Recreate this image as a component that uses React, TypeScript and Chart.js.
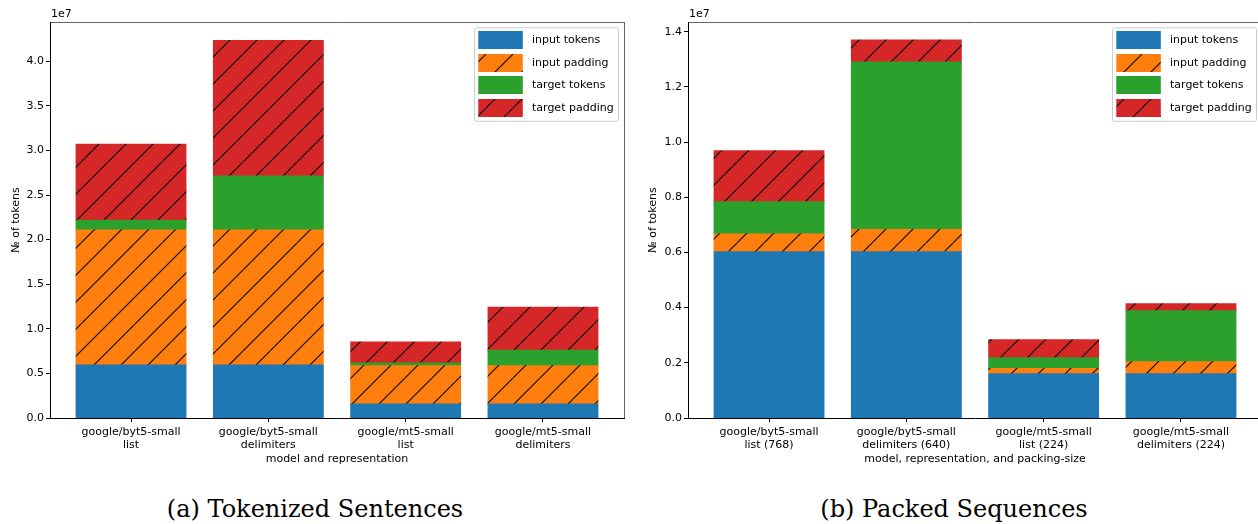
import React, { useEffect, useRef } from 'react';
import { Chart, registerables } from 'chart.js';

Chart.register(...registerables);

// ---------- data ----------
const SERIES_NAMES = ['input tokens', 'input padding', 'target tokens', 'target padding'];
const SERIES_COLORS = ['#1f77b4', '#ff7f0e', '#2ca02c', '#d62728'];
const SERIES_HATCHED = [false, true, false, true];

const LEFT_CATEGORIES = [
  ['google/byt5-small', 'list'],
  ['google/byt5-small', 'delimiters'],
  ['google/mt5-small', 'list'],
  ['google/mt5-small', 'delimiters'],
];
const LEFT_INPUT_TOKENS = [5930000, 5930000, 1570000, 1570000];
const LEFT_INPUT_PADDING = [15160000, 15160000, 4290000, 4290000];
const LEFT_TARGET_TOKENS = [1080000, 6040000, 300000, 1750000];
const LEFT_TARGET_PADDING = [8510000, 15200000, 2350000, 4820000];
const LEFT_Y_TICKS = [0, 5e6, 1e7, 1.5e7, 2e7, 2.5e7, 3e7, 3.5e7, 4e7];
const LEFT_Y_MAX = 4.44e7;

const RIGHT_CATEGORIES = [
  ['google/byt5-small', 'list (768)'],
  ['google/byt5-small', 'delimiters (640)'],
  ['google/mt5-small', 'list (224)'],
  ['google/mt5-small', 'delimiters (224)'],
];
const RIGHT_INPUT_TOKENS = [6020000, 6020000, 1600000, 1600000];
const RIGHT_INPUT_PADDING = [650000, 810000, 190000, 440000];
const RIGHT_TARGET_TOKENS = [1170000, 6070000, 390000, 1850000];
const RIGHT_TARGET_PADDING = [1840000, 800000, 660000, 250000];
const RIGHT_Y_TICKS = [0, 2e6, 4e6, 6e6, 8e6, 1e7, 1.2e7, 1.4e7];
const RIGHT_Y_MAX = 1.435e7;

const LEFT_X_TITLE = 'model and representation';
const RIGHT_X_TITLE = 'model, representation, and packing-size';
const Y_TITLE = '№ of tokens';
const LEFT_CAPTION = '(a) Tokenized Sentences';
const RIGHT_CAPTION = '(b) Packed Sequences';

// ---------- helpers ----------
const FONT_FAMILY = '"DejaVu Sans", sans-serif';

function makeHatch(color: string) {
  const s = 27;
  const c = document.createElement('canvas');
  c.width = s;
  c.height = s;
  const g = c.getContext('2d')!;
  g.fillStyle = color;
  g.fillRect(0, 0, s, s);
  g.strokeStyle = '#000';
  g.lineWidth = 1.1;
  for (const o of [-s, 0, s]) {
    g.beginPath();
    g.moveTo(o, s);
    g.lineTo(o + s, 0);
    g.stroke();
  }
  return g.createPattern(c, 'repeat')!;
}

function decorPlugin() {
  return {
    id: 'decor',
    afterDraw(chart: any) {
      const { ctx, chartArea } = chart;
      const { left, right, top, bottom } = chartArea;
      ctx.save();
      // spines
      ctx.lineWidth = 1;
      ctx.strokeStyle = '#666';
      ctx.beginPath();
      ctx.moveTo(left, top + 0.5);
      ctx.lineTo(right + 1, top + 0.5);
      ctx.moveTo(right + 0.5, top);
      ctx.lineTo(right + 0.5, bottom + 1);
      ctx.stroke();
      ctx.strokeStyle = '#000';
      ctx.beginPath();
      ctx.moveTo(left + 0.5, top);
      ctx.lineTo(left + 0.5, bottom + 1);
      ctx.moveTo(left, bottom + 0.5);
      ctx.lineTo(right + 1, bottom + 0.5);
      ctx.stroke();
      // offset text
      ctx.fillStyle = '#000';
      ctx.font = `11px ${FONT_FAMILY}`;
      ctx.textAlign = 'left';
      ctx.textBaseline = 'middle';
      ctx.fillText('1e7', left + 1, top - 8);
      // legend
      const bw = 144;
      const bh = 93.5;
      const bx = right - 150;
      const by = top + 5.3;
      ctx.beginPath();
      ctx.roundRect(bx + 0.5, by + 0.5, bw, bh, 2);
      ctx.fillStyle = 'rgba(255,255,255,0.8)';
      ctx.fill();
      ctx.strokeStyle = '#cccccc';
      ctx.stroke();
      SERIES_NAMES.forEach((name, i) => {
        const py = by + 3.7 + i * 22.67;
        const px = bx + 4.3;
        ctx.fillStyle = SERIES_HATCHED[i] ? makeHatch(SERIES_COLORS[i]) : SERIES_COLORS[i];
        ctx.fillRect(px, Math.round(py), 44.5, 18);
        ctx.fillStyle = '#000';
        ctx.font = `11px ${FONT_FAMILY}`;
        ctx.textAlign = 'left';
        ctx.textBaseline = 'middle';
        ctx.fillText(name, bx + 58, Math.round(py) + 9.5);
      });
      ctx.restore();
    },
  };
}

function buildChart(
  canvas: HTMLCanvasElement,
  categories: string[][],
  series: number[][],
  yTicks: number[],
  yMax: number,
  yWidth: number,
  yTitlePad: number,
  xTitle: string,
) {
  const datasets = series.map((vals, si) => ({
    label: SERIES_NAMES[si],
    data: vals.map((v, i) => ({ x: i, y: v })),
    backgroundColor: SERIES_HATCHED[si] ? makeHatch(SERIES_COLORS[si]) : SERIES_COLORS[si],
    borderWidth: 0,
    inflateAmount: 0.5,
    categoryPercentage: 0.8,
    barPercentage: 1.0,
  }));
  const tickFont = { family: FONT_FAMILY, size: 11 };
  return new Chart(canvas, {
    type: 'bar',
    data: { datasets } as any,
    plugins: [decorPlugin()],
    options: {
      animation: false,
      responsive: false,
      maintainAspectRatio: false,
      layout: { padding: { left: 0, top: 22, right: 5, bottom: 0 } },
      plugins: { legend: { display: false }, tooltip: { enabled: false } },
      scales: {
        x: {
          type: 'linear',
          min: -0.59,
          max: 3.59,
          offset: false,
          stacked: true,
          afterBuildTicks: (s: any) => {
            s.ticks = categories.map((_, i) => ({ value: i }));
          },
          afterFit: (s: any) => {
            s.height = 52;
          },
          ticks: {
            autoSkip: false,
            maxRotation: 0,
            padding: 3.3,
            color: '#000',
            font: tickFont,
            callback: (v: any) => categories[v] ?? '',
          },
          grid: {
            offset: false,
            drawOnChartArea: false,
            drawTicks: true,
            tickLength: 4,
            color: '#000',
          },
          border: { display: false },
          title: {
            display: true,
            text: xTitle,
            color: '#000',
            font: tickFont,
            padding: { top: 0, bottom: 4.2 },
          },
        },
        y: {
          type: 'linear',
          min: 0,
          max: yMax,
          stacked: true,
          afterBuildTicks: (s: any) => {
            s.ticks = yTicks.map((v) => ({ value: v }));
          },
          afterFit: (s: any) => {
            s.width = yWidth;
          },
          ticks: {
            padding: 2,
            color: '#000',
            font: tickFont,
            callback: (v: any) => (Number(v) / 1e7).toFixed(1),
          },
          grid: { drawOnChartArea: false, drawTicks: true, tickLength: 4, color: '#000' },
          border: { display: false },
          title: {
            display: true,
            text: Y_TITLE,
            color: '#000',
            font: tickFont,
            padding: { top: yTitlePad, bottom: 0 },
          },
        },
      },
    } as any,
  });
}

export default function App() {
  const leftRef = useRef<HTMLCanvasElement>(null);
  const rightRef = useRef<HTMLCanvasElement>(null);

  useEffect(() => {
    const a = buildChart(
      leftRef.current!,
      LEFT_CATEGORIES,
      [LEFT_INPUT_TOKENS, LEFT_INPUT_PADDING, LEFT_TARGET_TOKENS, LEFT_TARGET_PADDING],
      LEFT_Y_TICKS,
      LEFT_Y_MAX,
      50,
      9.4,
      LEFT_X_TITLE,
    );
    const b = buildChart(
      rightRef.current!,
      RIGHT_CATEGORIES,
      [RIGHT_INPUT_TOKENS, RIGHT_INPUT_PADDING, RIGHT_TARGET_TOKENS, RIGHT_TARGET_PADDING],
      RIGHT_Y_TICKS,
      RIGHT_Y_MAX,
      59,
      17.1,
      RIGHT_X_TITLE,
    );
    return () => {
      a.destroy();
      b.destroy();
    };
  }, []);

  const captionStyle: React.CSSProperties = {
    position: 'absolute',
    top: 497,
    width: 600,
    textAlign: 'center',
    fontFamily: '"DejaVu Serif", serif',
    fontSize: 24,
    lineHeight: '24px',
    color: '#000',
    whiteSpace: 'nowrap',
  };

  return (
    <div
      style={{
        position: 'fixed',
        left: 0,
        top: 0,
        width: 1258,
        height: 524,
        overflow: 'hidden',
        background: '#fff',
      }}
    >
      <canvas
        ref={leftRef}
        width={629}
        height={470}
        style={{ position: 'absolute', left: 0, top: 0, width: 629, height: 470 }}
      />
      <canvas
        ref={rightRef}
        width={638}
        height={470}
        style={{ position: 'absolute', left: 629, top: 0, width: 638, height: 470 }}
      />
      <div style={{ ...captionStyle, left: 315 - 300 }}>{LEFT_CAPTION}</div>
      <div style={{ ...captionStyle, left: 954 - 300 }}>{RIGHT_CAPTION}</div>
    </div>
  );
}
